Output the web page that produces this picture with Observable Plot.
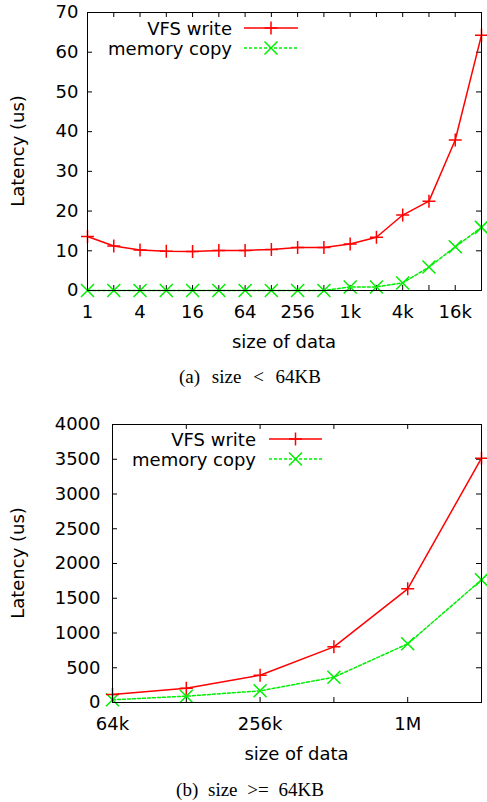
<!DOCTYPE html>
<html>
<head>
<meta charset="utf-8">
<script src="https://cdn.jsdelivr.net/npm/d3@7"></script>
<script src="https://cdn.jsdelivr.net/npm/@observablehq/plot@0.6"></script>
<style>
  body { margin: 0; background: #fff; }
  #root { position: relative; width: 487px; height: 802px; font-family: 'DejaVu Sans', sans-serif; }
  .panel { position: absolute; left: 0; }
  .cap { position: absolute; left: 0; width: 500px; text-align: center; font-family: 'Liberation Serif', 'Times New Roman', serif; font-size: 19px; line-height: 18px; white-space: pre; color: #000; }
</style>
</head>
<body>
<div id="root">
  <div id="pa" class="panel" style="top:0"></div>
  <div class="cap" style="top:368px; word-spacing:7px;">(a) size &lt; 64KB</div>
  <div id="pb" class="panel" style="top:400px"></div>
  <div class="cap" style="top:781px; word-spacing:5px;">(b) size &gt;= 64KB</div>
</div>
<script>
// ---- data: panel (a) size < 64KB ----
const sizesA = [1, 2, 4, 8, 16, 32, 64, 128, 256, 512, 1024, 2048, 4096, 8192, 16384, 32768];
const vfsA   = [13.6, 11.2, 10.2, 9.9, 9.8, 10.1, 10.1, 10.3, 10.8, 10.8, 11.7, 13.4, 19.0, 22.5, 37.9, 64.3];
const memA   = [0, 0, 0, 0, 0, 0, 0, 0, 0, 0, 0.9, 0.9, 1.9, 5.9, 11.0, 15.9];
const xTickValsA = [1, 4, 16, 64, 256, 1024, 4096, 16384];
const xTickLabelsA = ["1", "4", "16", "64", "256", "1k", "4k", "16k"];
const yTicksA = [0, 10, 20, 30, 40, 50, 60, 70];

// ---- data: panel (b) size >= 64KB ----
const sizesB = [65536, 131072, 262144, 524288, 1048576, 2097152];
const vfsB   = [115, 206, 393, 801, 1636, 3515];
const memB   = [39, 91, 168, 364, 844, 1765];
const xTickValsB = [65536, 262144, 1048576];
const xTickLabelsB = ["64k", "256k", "1M"];
const yTicksB = [0, 500, 1000, 1500, 2000, 2500, 3000, 3500, 4000];

const seriesNames = ["VFS write", "memory copy"];
const RED = "#ff0000", GREEN = "#00ee00";

const plusSym = {draw(ctx, size) { const r = Math.sqrt(size / Math.PI); ctx.moveTo(-r, 0); ctx.lineTo(r, 0); ctx.moveTo(0, -r); ctx.lineTo(0, r); }};
const timesSym = {draw(ctx, size) { const r = Math.sqrt(size / Math.PI); ctx.moveTo(-r, -r); ctx.lineTo(r, r); ctx.moveTo(-r, r); ctx.lineTo(r, -r); }};

function makePanel(cfg) {
  const {sizes, vfs, mem, xTickVals, xTickLabels, yTicks, xDomain, yDomain,
         width, height, mL, mR, mT, mB, yPad, legend} = cfg;
  const innerW = width - mL - mR, innerH = height - mT - mB;
  const tVfs = sizes.map((s, i) => ({s, v: vfs[i]}));
  const tMem = sizes.map((s, i) => ({s, v: mem[i]}));
  const lab = new Map(xTickVals.map((v, i) => [v, xTickLabels[i]]));
  const font = 18;
  const ff = "'DejaVu Sans', sans-serif";
  const svg = Plot.plot({
    width, height,
    marginLeft: mL, marginRight: mR, marginTop: mT, marginBottom: mB,
    style: {fontFamily: ff, fontSize: font + "px", background: "#fff", color: "#000"},
    x: {type: "log", base: 2, domain: xDomain},
    y: {domain: yDomain},
    marks: [
      Plot.tickY(yTicks, {y: d => d, insetRight: innerW - 5, stroke: "#000"}),
      Plot.tickY(yTicks, {y: d => d, insetLeft: innerW - 5, stroke: "#000"}),
      Plot.tickX(sizes, {x: d => d, insetTop: innerH - 5, stroke: "#000"}),
      Plot.tickX(sizes, {x: d => d, insetBottom: innerH - 5, stroke: "#000"}),
      Plot.axisX({ticks: xTickVals, tickFormat: d => lab.get(d), tickSize: 0, tickPadding: 15, label: null, fontSize: font}),
      Plot.axisY({ticks: yTicks, tickFormat: d => String(d), tickSize: 0, tickPadding: yPad, label: null, fontSize: font}),
      Plot.line(tMem, {x: "s", y: "v", stroke: GREEN, strokeWidth: 1.5, strokeDasharray: "3,2"}),
      Plot.dot(tMem, {x: "s", y: "v", symbol: timesSym, r: 6.5, stroke: GREEN, fill: "none", strokeWidth: 1.5}),
      Plot.line(tVfs, {x: "s", y: "v", stroke: RED, strokeWidth: 1.5}),
      Plot.dot(tVfs, {x: "s", y: "v", symbol: plusSym, r: 6.5, stroke: RED, fill: "none", strokeWidth: 1.5}),
      Plot.frame({stroke: "#000", strokeWidth: 1})
    ]
  });
  const g = d3.select(svg).append("g").attr("font-family", ff).attr("font-size", font);
  // axis titles
  g.append("text").attr("transform", `translate(17,${mT + innerH / 2}) rotate(-90)`)
    .attr("text-anchor", "middle").attr("dominant-baseline", "central").text("Latency (us)");
  g.append("text").attr("x", mL + innerW / 2).attr("y", mT + innerH + 58)
    .attr("text-anchor", "middle").text("size of data");
  // legend
  const styles = [
    {stroke: RED, dash: null, sym: "M-6.5,0H6.5M0,-6.5V6.5"},
    {stroke: GREEN, dash: "3,2", sym: "M-6.5,-6.5L6.5,6.5M-6.5,6.5L6.5,-6.5"}
  ];
  seriesNames.forEach((name, i) => {
    const cy = legend.y + i * 20;
    g.append("text").attr("x", legend.textX).attr("y", cy + 6.5).attr("text-anchor", "end").text(name);
    g.append("line").attr("x1", legend.x1).attr("x2", legend.x2).attr("y1", cy).attr("y2", cy)
      .attr("stroke", styles[i].stroke).attr("stroke-width", 1.5).attr("stroke-dasharray", styles[i].dash);
    g.append("path").attr("transform", `translate(${(legend.x1 + legend.x2) / 2},${cy})`).attr("d", styles[i].sym)
      .attr("stroke", styles[i].stroke).attr("stroke-width", 1.5).attr("fill", "none");
  });
  return svg;
}

document.getElementById("pa").appendChild(makePanel({
  sizes: sizesA, vfs: vfsA, mem: memA, xTickVals: xTickValsA, xTickLabels: xTickLabelsA, yTicks: yTicksA,
  xDomain: [1, 32768], yDomain: [0, 70],
  width: 487, height: 355, mL: 87, mR: 6, mT: 12, mB: 65, yPad: 9,
  legend: {textX: 232, x1: 244, x2: 298, y: 28}
}));
document.getElementById("pb").appendChild(makePanel({
  sizes: sizesB, vfs: vfsB, mem: memB, xTickVals: xTickValsB, xTickLabels: xTickLabelsB, yTicks: yTicksB,
  xDomain: [65536, 2097152], yDomain: [0, 4000],
  width: 487, height: 365, mL: 112, mR: 6, mT: 24, mB: 63, yPad: 12,
  legend: {textX: 256, x1: 269, x2: 322, y: 39}
}));
</script>
</body>
</html>
